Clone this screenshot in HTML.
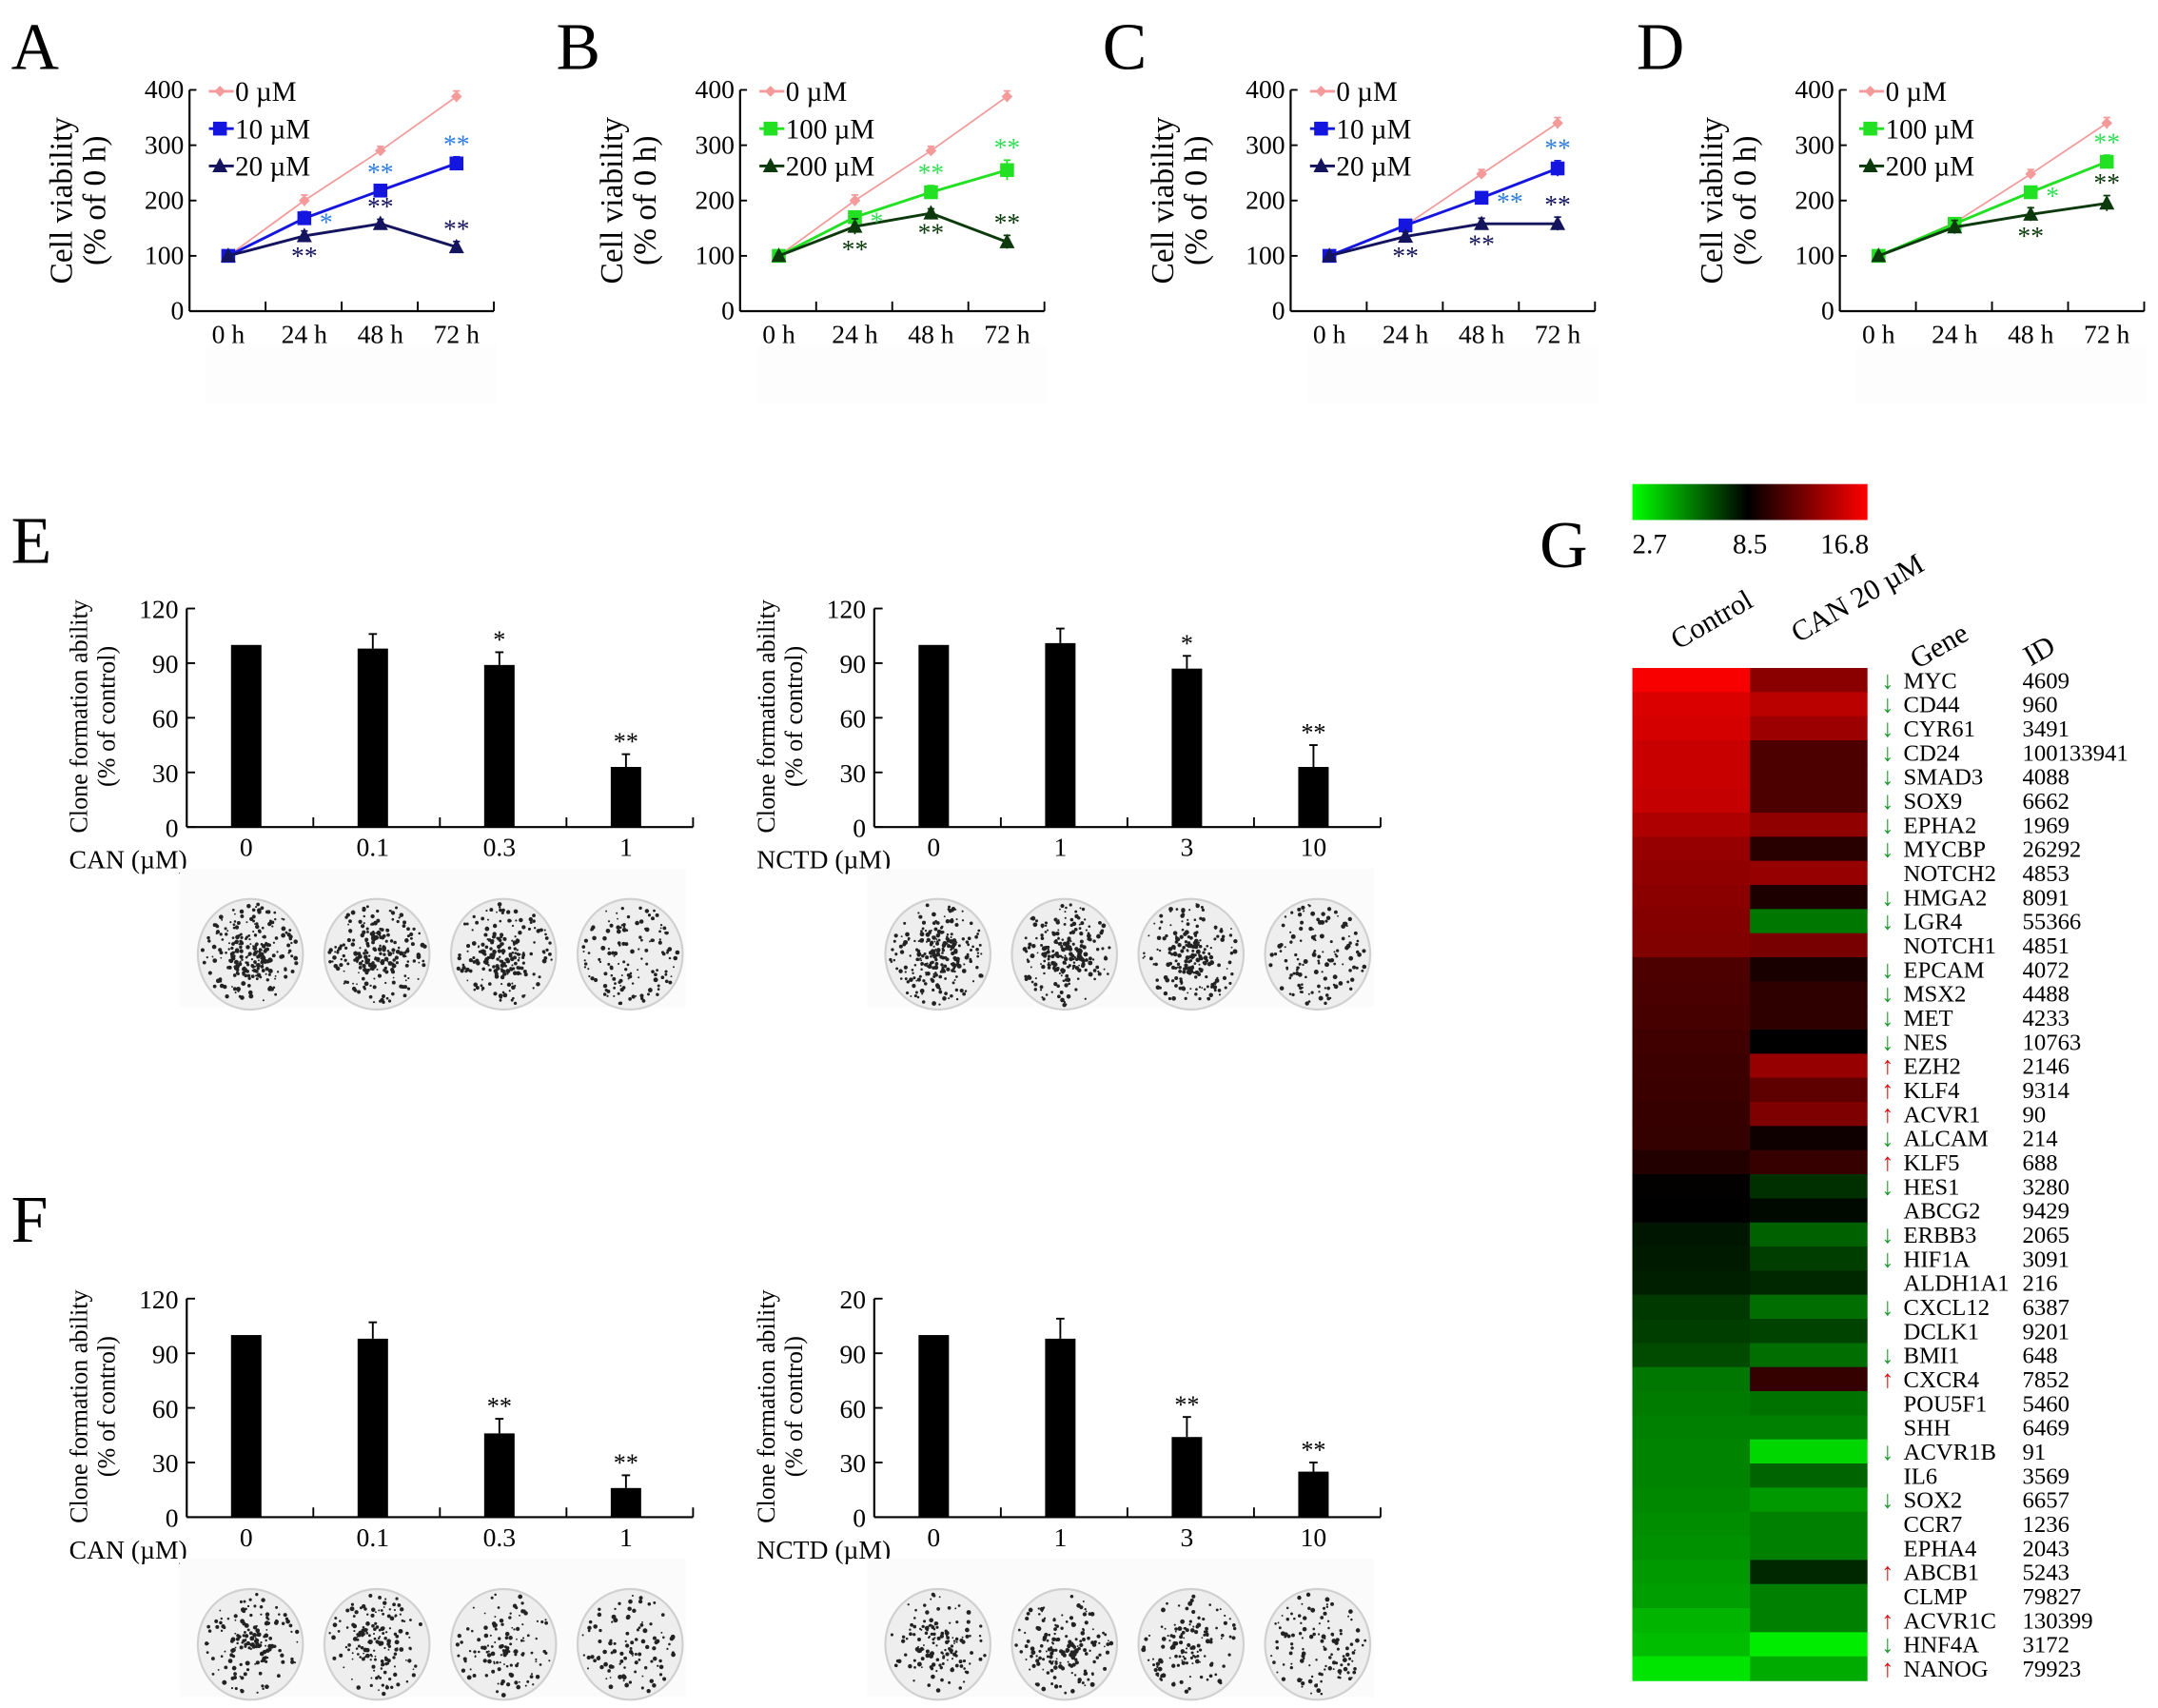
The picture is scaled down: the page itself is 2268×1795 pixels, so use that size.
<!DOCTYPE html>
<html><head><meta charset="utf-8">
<style>
html,body{margin:0;padding:0;background:#fff;}
svg{display:block;}
text{font-family:"Liberation Serif",serif;}
</style></head>
<body>
<svg id="fig" width="2268" height="1795" viewBox="0 0 1560 1235" preserveAspectRatio="none" xmlns="http://www.w3.org/2000/svg"></svg>
<script>
// ---------- data ----------
const timeLabels = ["0 h","24 h","48 h","72 h"];
const viabTicks = [0,100,200,300,400];
const A_c0 = [100,200,290,388], A_c10 = [100,168,218,267], A_c20 = [100,136,158,116];
const A_e0 = [4,10,8,10], A_e10 = [4,12,10,12], A_e20 = [4,9,8,10];
const B_c0 = [100,200,290,388], B_c100 = [100,170,215,255], B_c200 = [100,153,177,125];
const B_e0 = [4,10,8,10], B_e100 = [4,10,12,18], B_e200 = [4,14,8,12];
const C_c0 = [100,155,248,340], C_c10 = [100,155,205,258], C_c20 = [100,135,158,158];
const C_e0 = [4,6,8,10], C_e10 = [4,8,9,14], C_e20 = [4,8,10,12];
const D_c0 = [100,160,248,340], D_c100 = [100,158,215,270], D_c200 = [100,152,175,195];
const D_e0 = [4,6,8,10], D_e100 = [4,6,10,12], D_e200 = [4,12,12,14];

const barTicks = [0,30,60,90,120];
const barTicksF2 = ["0","30","60","90","20"];
const E1_cats = ["0","0.1","0.3","1"], E1_vals = [100,98,89,33], E1_err = [0,8,7,7], E1_sig = ["","","*","**"];
const E2_cats = ["0","1","3","10"], E2_vals = [100,101,87,33], E2_err = [0,8,7,12], E2_sig = ["","","*","**"];
const F1_cats = ["0","0.1","0.3","1"], F1_vals = [100,98,46,16], F1_err = [0,9,8,7], F1_sig = ["","","**","**"];
const F2_cats = ["0","1","3","10"], F2_vals = [100,98,44,25], F2_err = [0,11,11,5], F2_sig = ["","","**","**"];

const genes = ["MYC","CD44","CYR61","CD24","SMAD3","SOX9","EPHA2","MYCBP","NOTCH2","HMGA2","LGR4","NOTCH1","EPCAM","MSX2","MET","NES","EZH2","KLF4","ACVR1","ALCAM","KLF5","HES1","ABCG2","ERBB3","HIF1A","ALDH1A1","CXCL12","DCLK1","BMI1","CXCR4","POU5F1","SHH","ACVR1B","IL6","SOX2","CCR7","EPHA4","ABCB1","CLMP","ACVR1C","HNF4A","NANOG"];
const geneIds = ["4609","960","3491","100133941","4088","6662","1969","26292","4853","8091","55366","4851","4072","4488","4233","10763","2146","9314","90","214","688","3280","9429","2065","3091","216","6387","9201","648","7852","5460","6469","91","3569","6657","1236","2043","5243","79827","130399","3172","79923"];
const geneDir = ["d","d","d","d","d","d","d","d","n","d","d","n","d","d","d","d","u","u","u","d","u","d","n","d","d","n","d","n","d","u","n","n","d","n","d","n","n","u","n","u","d","u"];
const ctrlVals = [16.6,15.6,15.4,15.0,15.0,14.9,14.2,13.4,13.2,13.0,12.8,12.7,11.0,10.9,10.8,10.6,10.5,10.4,10.3,10.2,9.6,8.6,8.5,8.0,7.9,7.8,7.2,7.1,6.8,5.8,5.7,5.6,5.5,5.5,5.4,5.3,5.2,5.0,4.9,4.4,4.2,3.3];
const canVals = [13.0,14.6,13.6,11.0,11.0,11.0,13.2,9.8,13.4,9.4,5.8,12.4,9.3,10.0,10.0,8.5,13.4,11.6,12.6,9.0,10.3,7.4,8.3,6.3,7.1,7.6,6.0,7.0,6.0,10.2,5.9,5.6,3.6,6.2,5.0,5.6,5.6,7.6,5.6,5.6,3.1,4.6];
const cbarLabels = ["2.7","8.5","16.8"];

// ---------- helpers ----------
const NS = "http://www.w3.org/2000/svg";
const svg = document.getElementById("fig");
function mk(tag, attrs, parent, txt){
  const e = document.createElementNS(NS, tag);
  for (const k in attrs) e.setAttribute(k, attrs[k]);
  if (txt !== undefined) e.textContent = txt;
  (parent || svg).appendChild(e);
  return e;
}
function grp(name){
  const g = mk("g", {});
  
  
  return g;
}

function panelLetter(ch, x, y){
  const t = mk("text", {x:x, y:y, "font-size":48}, svg, ch);
  
  
}

function marker(g, kind, cx, cy, color){
  if (kind === "diamond") mk("polygon", {points:`${cx},${cy-4} ${cx+4},${cy} ${cx},${cy+4} ${cx-4},${cy}`, fill:color}, g);
  else if (kind === "square") mk("rect", {x:cx-5, y:cy-5, width:10, height:10, fill:color}, g);
  else mk("polygon", {points:`${cx},${cy-6} ${cx+5.5},${cy+4.5} ${cx-5.5},${cy+4.5}`, fill:color}, g);
}

function lineChart(name, ox, series, legend, stars){
  const g = grp(name);
  const y0 = 225, yTop = 65;
  const ys = v => y0 - (v/400)*(y0-yTop);
  const xs = i => ox + 28 + 55*i;
  const bg = mk("rect", {x:ox+12, y:250, width:210, height:42, fill:"#fdfdfd"}, g);
  const ya = mk("g", {}, g);
  
  
  mk("line", {x1:ox, y1:yTop, x2:ox, y2:y0, stroke:"#000", "stroke-width":1.5}, ya);
  viabTicks.forEach(v => {
    mk("line", {x1:ox, y1:ys(v), x2:ox+5, y2:ys(v), stroke:"#000", "stroke-width":1.3}, ya);
    mk("text", {x:ox-4, y:ys(v)+6, "font-size":19, "text-anchor":"end"}, ya, String(v));
  });
  const xa = mk("g", {}, g);
  
  
  mk("line", {x1:ox, y1:y0, x2:ox+220, y2:y0, stroke:"#000", "stroke-width":1.5}, xa);
  for (let i=1;i<=4;i++) mk("line", {x1:ox+55*i, y1:y0, x2:ox+55*i, y2:y0-7, stroke:"#000", "stroke-width":1.3}, xa);
  timeLabels.forEach((l,i) => mk("text", {x:xs(i), y:y0+23, "font-size":19, "text-anchor":"middle"}, xa, l));
  const yt = mk("g", {}, g);
  
  
  mk("text", {x:0, y:0, "font-size":23, "text-anchor":"middle", transform:`translate(${ox-85},145) rotate(-90)`}, yt, "Cell viability");
  mk("text", {x:0, y:0, "font-size":23, "text-anchor":"middle", transform:`translate(${ox-61},145) rotate(-90)`}, yt, "(% of 0 h)");
  series.forEach(s => {
    const sg = mk("g", {}, g);
    
    
    const pts = s.vals.map((v,i)=>`${xs(i)},${ys(v)}`).join(" ");
    mk("polyline", {points:pts, fill:"none", stroke:s.color, "stroke-width":s.w}, sg);
    s.vals.forEach((v,i) => {
      const e = s.err[i];
      mk("line", {x1:xs(i), y1:ys(v+e), x2:xs(i), y2:ys(v-e), stroke:s.color, "stroke-width":1.2}, sg);
      mk("line", {x1:xs(i)-2.5, y1:ys(v+e), x2:xs(i)+2.5, y2:ys(v+e), stroke:s.color, "stroke-width":1.2}, sg);
      marker(sg, s.kind, xs(i), ys(v), s.color);
    });
  });
  legend.forEach((s,k) => {
    const lg = mk("g", {}, g);
    
    
    const ly = 66 + 27*k;
    mk("line", {x1:ox+14, y1:ly, x2:ox+32, y2:ly, stroke:s.color, "stroke-width":2}, lg);
    marker(lg, s.kind, ox+22, ly, s.color);
    mk("text", {x:ox+33, y:ly+7, "font-size":20}, lg, s.label);
  });
  stars.forEach(st => {
    const s = series[st.s];
    const x = xs(st.i) + (st.pos==="r" ? 11 : 0);
    let y;
    if (st.pos === "a") y = ys(s.vals[st.i] + s.err[st.i]) - 3;
    else if (st.pos === "b") y = ys(s.vals[st.i] - s.err[st.i]) + 17;
    else y = ys(s.vals[st.i]) + 9;
    const t = mk("text", {x:x, y:y, "font-size":19, fill:st.c, "text-anchor": st.pos==="r" ? "start":"middle"}, g, st.t);
    
    
  });
}

const PINK="#f49a9a", BLUE="#1515e0", NAVY="#14145e", LGREEN="#22e022", DGREEN="#0c3a0c";
const LB="#2e7de0", LG="#33dd55";

panelLetter("A", 8, 50);
{
  const s = [
    {label:"0 µM", vals:A_c0, err:A_e0, color:PINK, kind:"diamond", w:1.2},
    {label:"10 µM", vals:A_c10, err:A_e10, color:BLUE, kind:"square", w:2},
    {label:"20 µM", vals:A_c20, err:A_e20, color:NAVY, kind:"triangle", w:2}];
  lineChart("chart-a", 137, s, s, [
    {s:1,i:1,pos:"r",t:"*",c:LB},{s:1,i:2,pos:"a",t:"**",c:LB},{s:1,i:3,pos:"a",t:"**",c:LB},
    {s:2,i:1,pos:"b",t:"**",c:NAVY},{s:2,i:2,pos:"a",t:"**",c:NAVY},{s:2,i:3,pos:"a",t:"**",c:NAVY}]);
}
panelLetter("B", 402, 50);
{
  const s = [
    {label:"0 µM", vals:B_c0, err:B_e0, color:PINK, kind:"diamond", w:1.2},
    {label:"100 µM", vals:B_c100, err:B_e100, color:LGREEN, kind:"square", w:2},
    {label:"200 µM", vals:B_c200, err:B_e200, color:DGREEN, kind:"triangle", w:2}];
  lineChart("chart-b", 535, s, s, [
    {s:1,i:1,pos:"r",t:"*",c:LG},{s:1,i:2,pos:"a",t:"**",c:LG},{s:1,i:3,pos:"a",t:"**",c:LG},
    {s:2,i:1,pos:"b",t:"**",c:DGREEN},{s:2,i:2,pos:"b",t:"**",c:DGREEN},{s:2,i:3,pos:"a",t:"**",c:DGREEN}]);
}
panelLetter("C", 797, 50);
{
  const s = [
    {label:"0 µM", vals:C_c0, err:C_e0, color:PINK, kind:"diamond", w:1.2},
    {label:"10 µM", vals:C_c10, err:C_e10, color:BLUE, kind:"square", w:2},
    {label:"20 µM", vals:C_c20, err:C_e20, color:NAVY, kind:"triangle", w:2}];
  lineChart("chart-c", 933, s, s, [
    {s:1,i:2,pos:"r",t:"**",c:LB},{s:1,i:3,pos:"a",t:"**",c:LB},
    {s:2,i:1,pos:"b",t:"**",c:NAVY},{s:2,i:2,pos:"b",t:"**",c:NAVY},{s:2,i:3,pos:"a",t:"**",c:NAVY}]);
}
panelLetter("D", 1183, 50);
{
  const s = [
    {label:"0 µM", vals:D_c0, err:D_e0, color:PINK, kind:"diamond", w:1.2},
    {label:"100 µM", vals:D_c100, err:D_e100, color:LGREEN, kind:"square", w:2},
    {label:"200 µM", vals:D_c200, err:D_e200, color:DGREEN, kind:"triangle", w:2}];
  lineChart("chart-d", 1330, s, s, [
    {s:1,i:2,pos:"r",t:"*",c:LG},{s:1,i:3,pos:"a",t:"**",c:LG},
    {s:2,i:2,pos:"b",t:"**",c:DGREEN},{s:2,i:3,pos:"a",t:"**",c:DGREEN}]);
}

// ---------- dishes ----------
let seed = 7;
function rnd(){ seed = (seed*1103515245 + 12345) % 2147483648; return seed/2147483648; }
function dish(parent, cx, cy, density, cluster){
  const g = mk("g", {}, parent);
  
  
  mk("ellipse", {cx:cx, cy:cy, rx:38, ry:40, fill:"#eeeeee", stroke:"#d0d0d0", "stroke-width":1.5}, g);
  for (let k=0;k<density;k++){
    let a = rnd()*Math.PI*2, r = Math.sqrt(rnd())*35;
    if (cluster && k%3===0) r = r*0.45;
    const px = cx + Math.cos(a)*r, py = cy + Math.sin(a)*r*1.05;
    mk("circle", {cx:px, cy:py, r:0.6+rnd()*1.1, fill:"#222"}, g);
  }
}

function barChart(name, ox, yb, cats, vals, errs, sig, tickLabels, xName, dens){
  const g = grp(name);
  const yTop = yb - 158;
  const ys = v => yb - (v/120)*158;
  const xs = i => ox + 43 + 91.5*i;
  const ya = mk("g", {}, g);
  
  
  mk("line", {x1:ox, y1:yTop, x2:ox, y2:yb, stroke:"#000", "stroke-width":1.5}, ya);
  barTicks.forEach((v,k) => {
    mk("line", {x1:ox, y1:ys(v), x2:ox+6, y2:ys(v), stroke:"#000", "stroke-width":1.3}, ya);
    mk("text", {x:ox-6, y:ys(v)+7, "font-size":19, "text-anchor":"end"}, ya, String(tickLabels[k]));
  });
  const xa = mk("g", {}, g);
  
  
  mk("line", {x1:ox, y1:yb, x2:ox+366, y2:yb, stroke:"#000", "stroke-width":1.5}, xa);
  for (let i=1;i<=4;i++) mk("line", {x1:ox+91.5*i, y1:yb, x2:ox+91.5*i, y2:yb-7, stroke:"#000", "stroke-width":1.3}, xa);
  cats.forEach((c,i) => mk("text", {x:xs(i), y:yb+21, "font-size":19, "text-anchor":"middle"}, xa, c));
  mk("text", {x:ox-85, y:yb+30, "font-size":19}, xa, xName);
  const yt = mk("g", {}, g);
  
  
  mk("text", {x:0,y:0,"font-size":18,"text-anchor":"middle",transform:`translate(${ox-72},${yb-80}) rotate(-90)`}, yt, "Clone formation ability");
  mk("text", {x:0,y:0,"font-size":18,"text-anchor":"middle",transform:`translate(${ox-52},${yb-80}) rotate(-90)`}, yt, "(% of control)");
  vals.forEach((v,i) => {
    const b = mk("rect", {x:xs(i)-11, y:ys(v), width:22, height:yb-ys(v), fill:"#000"}, g);
    
    
    if (errs[i] > 0){
      mk("line", {x1:xs(i), y1:ys(v), x2:xs(i), y2:ys(v+errs[i]), stroke:"#000", "stroke-width":1.3}, g);
      mk("line", {x1:xs(i)-3, y1:ys(v+errs[i]), x2:xs(i)+3, y2:ys(v+errs[i]), stroke:"#000", "stroke-width":1.3}, g);
    }
    if (sig[i]){
      const t = mk("text", {x:xs(i), y:ys(v+errs[i])-3, "font-size":18, "text-anchor":"middle"}, g, sig[i]);
      
      
    }
  });
  mk("rect", {x:ox-5, y:yb+30, width:366, height:100, fill:"#fbfbfb"}, g);
  cats.forEach((c,i) => dish(g, xs(i)+3, yb+92, dens[i], i<3));
}

panelLetter("E", 8, 407);
barChart("chart-e-can", 135, 598, E1_cats, E1_vals, E1_err, E1_sig, barTicks, "CAN (µM)", [260,240,220,140]);
barChart("chart-e-nctd", 632, 598, E2_cats, E2_vals, E2_err, E2_sig, barTicks, "NCTD (µM)", [260,240,210,130]);
panelLetter("F", 8, 898);
barChart("chart-f-can", 135, 1097, F1_cats, F1_vals, F1_err, F1_sig, barTicks, "CAN (µM)", [160,170,130,110]);
barChart("chart-f-nctd", 632, 1097, F2_cats, F2_vals, F2_err, F2_sig, barTicksF2, "NCTD (µM)", [150,170,140,120]);

// ---------- heatmap G ----------
panelLetter("G", 1113, 410);
function heatColor(v){
  const lo=2.7, mid=8.5, hi=16.8;
  if (v <= mid){ const t = Math.max(0,(mid-v)/(mid-lo)); return `rgb(0,${Math.round(255*t)},0)`; }
  const t = Math.min(1,(v-mid)/(hi-mid)); return `rgb(${Math.round(255*t)},0,0)`;
}
{
  const cb = grp("color-scale-legend");
  const defs = mk("defs", {}, cb);
  const lgd = mk("linearGradient", {id:"cbg", x1:"0", x2:"1", y1:"0", y2:"0"}, defs);
  mk("stop", {offset:"0", "stop-color":"#00ff00"}, lgd);
  mk("stop", {offset:"0.49", "stop-color":"#000"}, lgd);
  mk("stop", {offset:"1", "stop-color":"#ff0000"}, lgd);
  mk("rect", {x:1180, y:350, width:170, height:26, fill:"url(#cbg)"}, cb);
  mk("text", {x:1180, y:400, "font-size":20}, cb, cbarLabels[0]);
  mk("text", {x:1265, y:400, "font-size":20, "text-anchor":"middle"}, cb, cbarLabels[1]);
  mk("text", {x:1351, y:400, "font-size":20, "text-anchor":"end"}, cb, cbarLabels[2]);

  const hm = grp("heatmap");
  const top = 483, rh = 17.43, x0 = 1180, cw = 85;
  const hdr = [["Control",1213,470],["CAN 20 µM",1300,465],["Gene",1386,484],["ID",1468,482]];
  hdr.forEach(h => {
    const t = mk("text", {x:0,y:0,"font-size":21,transform:`translate(${h[1]},${h[2]}) rotate(-30)`}, hm, h[0]);
    
    
  });
  genes.forEach((gname,i) => {
    const y = top + rh*i;
    const c1 = mk("rect", {x:x0, y:y, width:cw+0.5, height:rh+0.5, fill:heatColor(ctrlVals[i])}, hm);
    
    
    const c2 = mk("rect", {x:x0+cw, y:y, width:cw, height:rh+0.5, fill:heatColor(canVals[i])}, hm);
    
    
    const ty = y + rh/2 + 6;
    if (geneDir[i] === "d") mk("text", {x:1360, y:ty, "font-size":18, "font-weight":"bold", fill:"#1a9a2a"}, hm, "↓");
    if (geneDir[i] === "u") mk("text", {x:1360, y:ty, "font-size":18, "font-weight":"bold", fill:"#e01010"}, hm, "↑");
    const gt = mk("text", {x:1376, y:ty, "font-size":17}, hm, gname);
    
    
    mk("text", {x:1462, y:ty, "font-size":17}, hm, geneIds[i]);
  });
}
</script>
</body></html>
